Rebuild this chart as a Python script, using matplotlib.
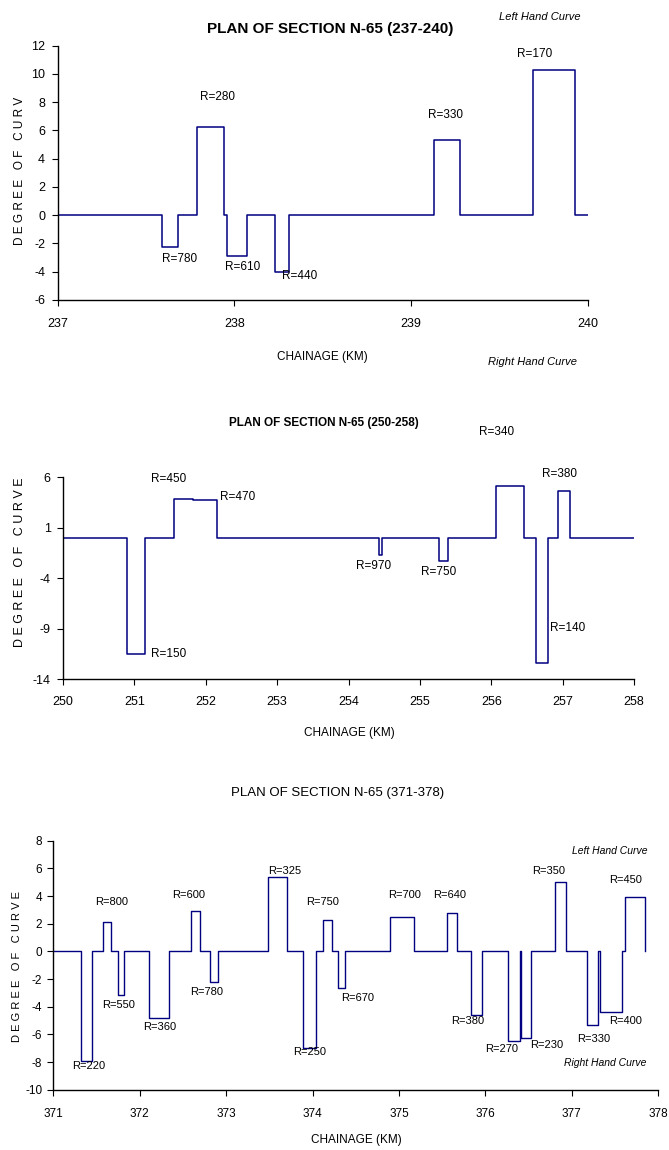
import matplotlib
matplotlib.use("Agg")
import matplotlib.pyplot as plt

plt.rcParams['font.family'] = ['Liberation Sans', 'DejaVu Sans']
plt.rcParams['axes.unicode_minus'] = False

# ---------------- data ----------------
# Panel 1: chainage breakpoints (km) and degree of curve (step, value holds until next breakpoint)
ch1 = [237.00, 237.59, 237.68, 237.79, 237.94, 237.96, 238.07, 238.23, 238.31,
       239.13, 239.28, 239.69, 239.93, 240.00]
deg1 = [0, -2.25, 0, 6.27, 0, -2.9, 0, -4.0, 0, 5.3, 0, 10.3, 0, 0]
lab1_text = ["R=280", "R=780", "R=610", "R=440", "R=330", "R=170"]
lab1_x = [237.906, 237.693, 238.046, 238.372, 239.198, 239.70]
lab1_y = [8.38, -3.07, -3.66, -4.32, 7.09, 11.41]
xticks1 = [237, 238, 239, 240]
yticks1 = [-6, -4, -2, 0, 2, 4, 6, 8, 10, 12]

# Panel 2
ch2 = [250.00, 250.89, 251.15, 251.55, 251.82, 252.15, 254.42, 254.47, 255.27,
       255.40, 256.07, 256.46, 256.62, 256.80, 256.94, 257.10, 258.00]
deg2 = [0, -11.5, 0, 3.88, 3.72, 0, -1.72, 0, -2.33, 0, 5.11, 0, -12.4, 0, 4.64, 0, 0]
lab2_text = ["R=450", "R=470", "R=150", "R=970", "R=750", "R=340", "R=380", "R=140"]
lab2_x = [251.48, 252.44, 251.48, 254.35, 255.26, 256.08, 256.95, 257.07]
lab2_y = [5.83, 4.02, -11.56, -2.80, -3.42, 10.46, 6.36, -8.98]
xticks2 = [250, 251, 252, 253, 254, 255, 256, 257, 258]
yticks2 = [-14, -9, -4, 1, 6]

# Panel 3
ch3 = [371.00, 371.32, 371.45, 371.58, 371.67, 371.75, 371.82, 372.11, 372.34,
       372.59, 372.70, 372.81, 372.90, 373.48, 373.70, 373.89, 374.04, 374.12,
       374.22, 374.29, 374.37, 374.90, 375.17, 375.56, 375.67, 375.83, 375.96,
       376.26, 376.40, 376.41, 376.53, 376.80, 376.93, 377.17, 377.30, 377.32,
       377.58, 377.61, 377.85]
deg3 = [0, -7.95, 0, 2.15, 0, -3.15, 0, -4.85, 0, 2.95, 0, -2.2, 0, 5.35, 0,
        -7.0, 0, 2.3, 0, -2.65, 0, 2.5, 0, 2.75, 0, -4.6, 0, -6.45, 0, -6.25,
        0, 5.0, 0, -5.3, 0, -4.4, 0, 3.9, 0]
lab3_text = ["R=220", "R=800", "R=550", "R=360", "R=600", "R=780", "R=325",
             "R=750", "R=670", "R=250", "R=700", "R=640", "R=380", "R=270",
             "R=230", "R=350", "R=330", "R=400", "R=450"]
lab3_x = [371.41, 371.68, 371.75, 372.23, 372.57, 372.77, 373.68, 374.11,
          374.52, 373.97, 375.06, 375.58, 375.80, 376.19, 376.71, 376.73,
          377.25, 377.62, 377.62]
lab3_y = [-8.27, 3.54, -3.88, -5.45, 4.07, -2.92, 5.83, 3.54, -3.40, -7.26,
          4.07, 4.07, -5.02, -7.06, -6.78, 5.83, -6.37, -5.02, 5.16]
xticks3 = [371, 372, 373, 374, 375, 376, 377, 378]
yticks3 = [-10, -8, -6, -4, -2, 0, 2, 4, 6, 8]

# ---------------- figure ----------------
W, H = 669, 1150
fig = plt.figure(figsize=(W / 100, H / 100), dpi=100)
LINE = '#000080'


def px(x, y):
    return x / W, 1 - y / H


def make_ax(l, t, r, b):
    x0, y1 = px(l, t)
    x1, y0 = px(r, b)
    ax = fig.add_axes([x0, y0, x1 - x0, y1 - y0])
    for s in ('top', 'right'):
        ax.spines[s].set_visible(False)
    for s in ('left', 'bottom'):
        ax.spines[s].set_linewidth(1.0)
    return ax


def ftext(x, y, s, **kw):
    fx, fy = px(x, y)
    fig.text(fx, fy, s, ha='center', va='center', **kw)


# Panel 1
ax1 = make_ax(57.6, 45.7, 587.5, 300)
ax1.step(ch1, deg1, where='post', color=LINE, lw=1.1)
ax1.set_xlim(237, 240)
ax1.set_ylim(-6, 12)
ax1.set_xticks(xticks1)
ax1.set_yticks(yticks1)
ax1.tick_params(axis='x', labelsize=9, length=4, pad=9)
ax1.tick_params(axis='y', labelsize=9, length=4, pad=5)
for t, x, y in zip(lab1_text, lab1_x, lab1_y):
    ax1.text(x, y, t, ha='center', va='center', fontsize=8.5)
ftext(330, 29.3, "PLAN OF SECTION N-65 (237-240)", fontsize=11, fontweight='bold')
ftext(540, 17.3, "Left Hand Curve", fontsize=8, style='italic')
ftext(532, 362, "Right Hand Curve", fontsize=8, style='italic')
ftext(322, 356.7, "CHAINAGE (KM)", fontsize=8.5)
ftext(20.5, 171, "D E G R E E   O F   C U R V", fontsize=8.5, rotation=90)

# Panel 2
ax2 = make_ax(63.1, 477.3, 634, 679)
ax2.step(ch2, deg2, where='post', color=LINE, lw=1.1)
ax2.set_xlim(250, 258)
ax2.set_ylim(-14, 6)
ax2.set_xticks(xticks2)
ax2.set_yticks(yticks2)
ax2.tick_params(axis='x', labelsize=9, length=4, pad=8)
ax2.tick_params(axis='y', labelsize=9, length=4, pad=5)
for t, x, y in zip(lab2_text, lab2_x, lab2_y):
    ax2.text(x, y, t, ha='center', va='center', fontsize=8.5)
ftext(324, 423.3, "PLAN OF SECTION N-65 (250-258)", fontsize=8.5, fontweight='bold')
ftext(349, 733.3, "CHAINAGE (KM)", fontsize=8.5)
ftext(20, 562, "D E G R E E   O F   C U R V E", fontsize=9, rotation=90)

# Panel 3
ax3 = make_ax(53.3, 840.7, 658.3, 1089.7)
ax3.step(ch3, deg3, where='post', color=LINE, lw=1.0)
ax3.set_xlim(371, 378)
ax3.set_ylim(-10, 8)
ax3.set_xticks(xticks3)
ax3.set_yticks(yticks3)
ax3.tick_params(axis='x', labelsize=8.5, length=4, pad=9)
ax3.tick_params(axis='y', labelsize=8.5, length=4, pad=4)
for t, x, y in zip(lab3_text, lab3_x, lab3_y):
    ax3.text(x, y, t, ha='center', va='center', fontsize=8)
ftext(338, 792.7, "PLAN OF SECTION N-65 (371-378)", fontsize=9.5)
ftext(610, 850.7, "Left Hand Curve", fontsize=7.5, style='italic')
ftext(605, 1063.3, "Right Hand Curve", fontsize=7.5, style='italic')
ftext(356, 1140, "CHAINAGE (KM)", fontsize=8.5)
ftext(17, 966.7, "D E G R E E   O F   C U R V E", fontsize=8, rotation=90)

fig.savefig("out.png", dpi=100)
